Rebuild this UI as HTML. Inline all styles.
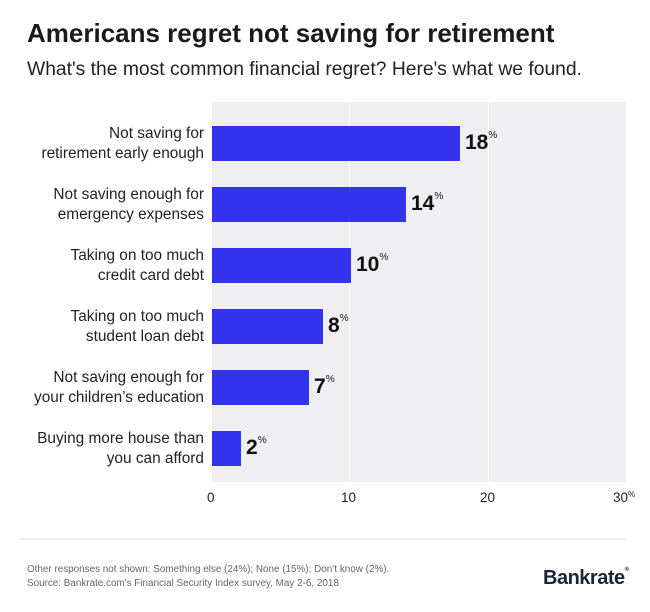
<!DOCTYPE html>
<html><head><meta charset="utf-8"><style>
body{margin:0;width:650px;height:612px;background:#fff;font-family:"Liberation Sans",sans-serif;position:relative;overflow:hidden}
.a{position:absolute}
.t{left:27px;top:18px;font-size:26px;font-weight:bold;color:#1a1a1a}
.s{left:27px;top:59px;font-size:19.3px;color:#222}
.plot{left:212px;top:102px;width:414px;height:380px;background:#efeff1}
.g{top:102px;width:1px;height:380px;background:#fff}
.bar{left:212px;height:35px;background:#3333ee}
.lab{right:446px;text-align:right;font-size:15.4px;line-height:20px;color:#222;white-space:nowrap}
.v{font-size:21px;color:#111;font-weight:bold}
.v sup{font-size:10px;vertical-align:top;position:relative;top:-1px;font-weight:normal}
.tk{top:490px;font-size:13.5px;color:#222}
.f{left:27px;font-size:9.9px;color:#666;white-space:nowrap}
</style></head><body>
<div class="a t">Americans regret not saving for retirement</div>
<div class="a s">What's the most common financial regret? Here's what we found.</div>
<div class="a plot"></div>
<div class="a g" style="left:349px"></div>
<div class="a g" style="left:488px"></div>
<div class="a bar" style="top:126px;width:248px"></div>
<div class="a bar" style="top:187px;width:194px"></div>
<div class="a bar" style="top:248px;width:139px"></div>
<div class="a bar" style="top:309px;width:111px"></div>
<div class="a bar" style="top:370px;width:97px"></div>
<div class="a bar" style="top:431px;width:29px"></div>
<div class="a v" style="left:465px;top:131px">18<sup>%</sup></div>
<div class="a v" style="left:411px;top:192px">14<sup>%</sup></div>
<div class="a v" style="left:356px;top:253px">10<sup>%</sup></div>
<div class="a v" style="left:328px;top:314px">8<sup>%</sup></div>
<div class="a v" style="left:314px;top:375px">7<sup>%</sup></div>
<div class="a v" style="left:246px;top:436px">2<sup>%</sup></div>
<div class="a lab" style="top:124px">Not saving for<br>retirement early enough</div>
<div class="a lab" style="top:185px">Not saving enough for<br>emergency expenses</div>
<div class="a lab" style="top:246px">Taking on too much<br>credit card debt</div>
<div class="a lab" style="top:307px">Taking on too much<br>student loan debt</div>
<div class="a lab" style="top:368px">Not saving enough for<br>your children’s education</div>
<div class="a lab" style="top:429px">Buying more house than<br>you can afford</div>
<div class="a tk" style="left:207px">0</div>
<div class="a tk" style="left:341px">10</div>
<div class="a tk" style="left:480px">20</div>
<div class="a tk" style="left:613px">30<span style="font-size:8px;vertical-align:top">%</span></div>
<div class="a" style="left:20px;top:538px;width:606px;height:2px;background:#eee"></div>
<div class="a f" style="top:564px">Other responses not shown: Something else (24%); None (15%); Don’t know (2%).</div>
<div class="a f" style="top:578px">Source: Bankrate.com's Financial Security Index survey, May 2-6, 2018</div>
<div class="a" style="left:543px;top:567px;font-size:20px;font-weight:bold;color:#1b2536;letter-spacing:-0.5px">Bankrate<span style="font-size:6px;vertical-align:top">®</span></div>
</body></html>
